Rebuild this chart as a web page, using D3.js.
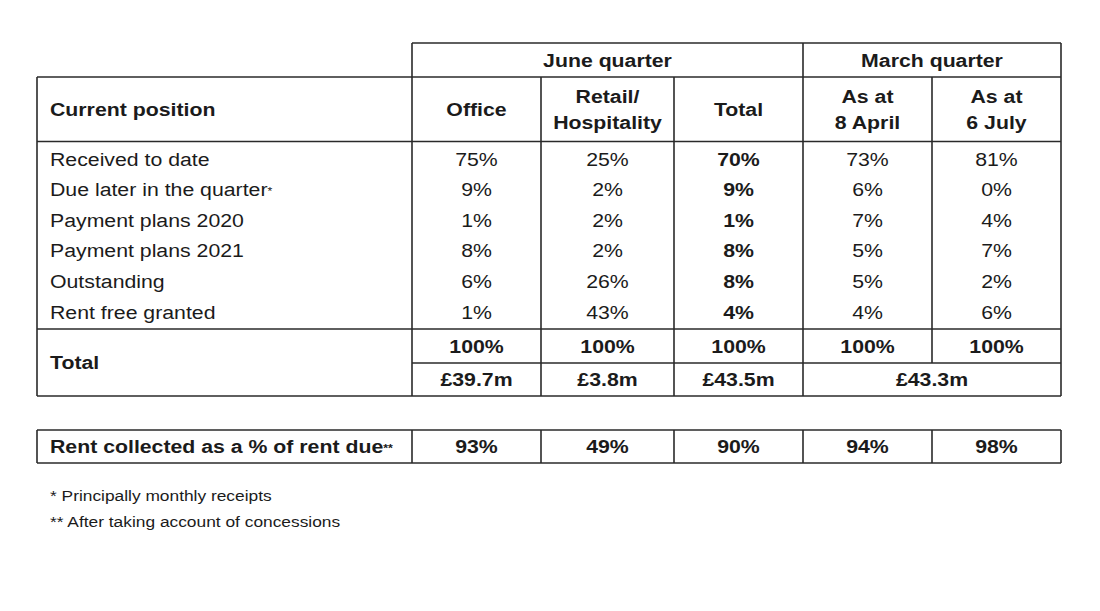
<!DOCTYPE html>
<html>
<head>
<meta charset="utf-8">
<script src="https://cdn.jsdelivr.net/npm/d3@7"></script>
<style>
  html, body { margin: 0; padding: 0; background: #fff; }
  svg { display: block; font-family: "Liberation Sans", Arial, sans-serif; }
</style>
</head>
<body>
<div id="chart"></div>
<script>
const rowLabels = ["Received to date", "Due later in the quarter", "Payment plans 2020",
  "Payment plans 2021", "Outstanding", "Rent free granted"]
const rowMarks = ["", "*", "", "", "", ""]
const columns = ["Office", "Retail", "Total", "April", "July"]
const groupHeaders = ["June quarter", "March quarter"]
const colHeaders = [["Office"], ["Retail/", "Hospitality"], ["Total"], ["As at", "8 April"], ["As at", "6 July"]]
const office = [75, 9, 1, 8, 6, 1]
const retail = [25, 2, 2, 2, 26, 43]
const total = [70, 9, 1, 8, 8, 4]
const april = [73, 6, 7, 5, 5, 4]
const july = [81, 0, 4, 7, 2, 6]
const totalPct = [100, 100, 100, 100, 100]
const totalValue = ["£39.7m", "£3.8m", "£43.5m", "£43.3m"]
const rentCollected = [93, 49, 90, 94, 98]
const footnotes = ["* Principally monthly receipts", "** After taking account of concessions"]

const W = 1100, H = 611
const ink = "#1b1b1b", line = "#2a2a2a"
const FS = 19, SX = 1.12

const svg = d3.select("#chart").append("svg").attr("width", W).attr("height", H)

// column left edges / widths (retail column a little wider, as in the original)
const x = d3.scaleOrdinal().domain(columns).range([412, 541, 674, 803, 932])
const cw = d3.scaleOrdinal().domain(columns).range([129, 133, 129, 129, 129])
const left = 37
const rowsY = d3.scaleBand().domain(rowLabels).range([143.5, 327])

const yTop = 43, yHead = 77, yHeadEnd = 141.5, yData = 329, yMid = 363, yBot = 396
const yRent0 = 430, yRent1 = 463

function txt(px, py, s, o = {}) {
  const fs = o.size || FS
  return svg.append("text")
    .attr("transform", `translate(${px},${py + fs * 0.36}) scale(${SX},1)`)
    .attr("font-size", fs)
    .attr("font-weight", o.bold ? "bold" : "normal")
    .attr("text-anchor", o.anchor || "middle")
    .attr("fill", ink)
    .text(s)
}

function hl(x1, x2, y) {
  svg.append("line").attr("x1", x1).attr("x2", x2).attr("y1", y).attr("y2", y)
    .attr("stroke", line).attr("stroke-width", 1.6)
}
function vl(xx, y1, y2) {
  svg.append("line").attr("x1", xx).attr("x2", xx).attr("y1", y1).attr("y2", y2)
    .attr("stroke", line).attr("stroke-width", 1.6)
}
const cx = c => x(c) + cw(c) / 2

// grid lines
const x0 = x("Office"), x1 = x("July") + cw("July")
hl(x0, x1, yTop)
hl(left, x1, yHead)
hl(left, x1, yHeadEnd)
hl(left, x1, yData)
hl(x0, x1, yMid)
hl(left, x1, yBot)
vl(left, yHead, yBot)
vl(x0, yTop, yBot)
vl(x1, yTop, yBot)
vl(x("April"), yTop, yBot)
columns.slice(1).forEach(c => {
  if (c === "April") return
  vl(x(c), yHead, c === "July" ? yMid : yBot)
})

// group headers
txt((x0 + x("April")) / 2, (yTop + yHead) / 2, groupHeaders[0], { bold: true })
txt((x("April") + x1) / 2, (yTop + yHead) / 2, groupHeaders[1], { bold: true })

// column headers
txt(50, (yHead + yHeadEnd) / 2, "Current position", { bold: true, anchor: "start" })
columns.forEach((c, i) => {
  const lines = colHeaders[i]
  const cy = (yHead + yHeadEnd) / 2
  if (lines.length === 1) txt(cx(c), cy, lines[0], { bold: true })
  else {
    txt(cx(c), cy - 13, lines[0], { bold: true })
    txt(cx(c), cy + 13, lines[1], { bold: true })
  }
})

// body rows
const series = [office, retail, total, april, july]
rowLabels.forEach((r, i) => {
  const cy = rowsY(r) + rowsY.bandwidth() / 2
  const t = txt(50, cy, r, { anchor: "start" })
  if (rowMarks[i]) t.append("tspan").attr("font-size", 11).attr("dy", -1).text(rowMarks[i])
  columns.forEach((c, j) => {
    txt(cx(c), cy, series[j][i] + "%", { bold: c === "Total" })
  })
})

// total rows
txt(50, (yData + yBot) / 2, "Total", { bold: true, anchor: "start" })
columns.forEach((c, j) => {
  txt(cx(c), (yData + yMid) / 2, totalPct[j] + "%", { bold: true })
})
columns.slice(0, 3).forEach((c, j) => {
  txt(cx(c), (yMid + yBot) / 2, totalValue[j], { bold: true })
})
txt((x("April") + x1) / 2, (yMid + yBot) / 2, totalValue[3], { bold: true })

// rent collected box
hl(left, x1, yRent0)
hl(left, x1, yRent1)
vl(left, yRent0, yRent1)
vl(x1, yRent0, yRent1)
columns.forEach(c => vl(x(c), yRent0, yRent1))
const rt = txt(50, (yRent0 + yRent1) / 2, "Rent collected as a % of rent due", { bold: true, anchor: "start" })
rt.append("tspan").attr("font-size", 11).attr("dy", -1).text("**")
columns.forEach((c, j) => {
  txt(cx(c), (yRent0 + yRent1) / 2, rentCollected[j] + "%", { bold: true })
})

// footnotes
txt(50, 495, footnotes[0], { anchor: "start", size: 15.5 })
txt(50, 521, footnotes[1], { anchor: "start", size: 15.5 })
</script>
</body>
</html>
